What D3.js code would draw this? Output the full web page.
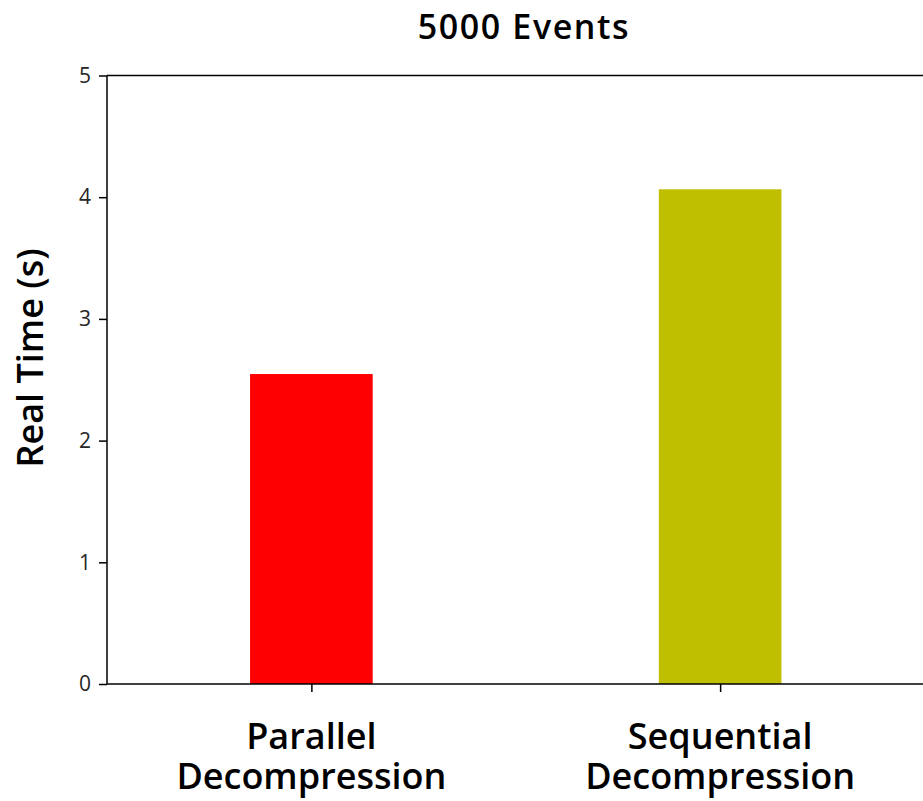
<!DOCTYPE html>
<html>
<head>
<meta charset="utf-8">
<script src="https://cdn.jsdelivr.net/npm/d3@7"></script>
<style>
  html, body { margin: 0; padding: 0; background: #fff; }
  svg { display: block; }
  text { font-family: "Open Sans", "Noto Sans", sans-serif; }
</style>
</head>
<body>
<svg id="chart" width="923" height="801"></svg>
<script>
const categories = ["Parallel\nDecompression", "Sequential\nDecompression"];
const values = [2.547, 4.065];
const colors = ["#ff0000", "#bfbf00"];
const yTicks = [0, 1, 2, 3, 4, 5];
const title = "5000 Events";
const yLabel = "Real Time (s)";

(function () {
const svg = d3.select("#chart");
const mLeft = 107, mRight = 924.5, mTop = 75.5, mBottom = 684;

const x = d3.scaleLinear().domain([-0.5, 1.5]).range([mLeft, mRight]);
const y = d3.scaleLinear().domain([0, 5]).range([mBottom, mTop]);
const barW = 0.3;

// bars
svg.append("g").selectAll("rect").data(values).join("rect")
  .attr("x", (d, i) => x(i - barW / 2))
  .attr("width", (d, i) => x(i + barW / 2) - x(i - barW / 2))
  .attr("y", d => y(d))
  .attr("height", d => y(0) - y(d))
  .attr("fill", (d, i) => colors[i]);

// y axis
const yAxis = d3.axisLeft(y).tickValues(yTicks).tickFormat(d3.format("d")).tickSize(8).tickPadding(8);
const gy = svg.append("g").attr("transform", `translate(${mLeft},0)`).call(yAxis);
gy.attr("font-size", null).attr("font-family", null);
gy.select(".domain").remove();
gy.selectAll(".tick line").attr("stroke", "#000").attr("stroke-width", 1.5);
gy.selectAll(".tick text").style("font-size", "21px").attr("fill", "#262626")
  .style("font-family", "'Open Sans', sans-serif");

// x axis
const xAxis = d3.axisBottom(x).tickValues([0, 1]).tickFormat("").tickSize(8);
const gx = svg.append("g").attr("transform", `translate(0,${mBottom})`).call(xAxis);
gx.select(".domain").remove();
gx.selectAll(".tick line").attr("stroke", "#000").attr("stroke-width", 1.5);

// x category labels (two lines)
const lab = svg.append("g").selectAll("text").data(categories).join("text")
  .attr("x", (d, i) => x(i))
  .attr("text-anchor", "middle")
  .style("font-size", "36px")
  .style("font-weight", 600)
  .attr("fill", "#000");
lab.each(function (d) {
  const cx = d3.select(this).attr("x");
  d3.select(this).selectAll("tspan").data(d.split("\n")).join("tspan")
    .attr("x", cx)
    .attr("y", (l, j) => 748.5 + j * 40.5)
    .text(l => l);
});

// spines
const sp = svg.append("g").attr("stroke", "#000").attr("stroke-width", 1.5).attr("fill", "none");
sp.append("line").attr("x1", mLeft).attr("x2", mLeft).attr("y1", mTop).attr("y2", mBottom);
sp.append("line").attr("x1", mLeft).attr("x2", mRight).attr("y1", mTop).attr("y2", mTop);
sp.append("line").attr("x1", mLeft).attr("x2", mRight).attr("y1", mBottom).attr("y2", mBottom);
sp.append("line").attr("x1", mRight).attr("x2", mRight).attr("y1", mTop).attr("y2", mBottom);

// title
svg.append("text").attr("x", 524).attr("y", 38.5)
  .attr("text-anchor", "middle").style("font-size", "34px").style("font-weight", 600)
  .style("letter-spacing", "1.6px").attr("fill", "#000")
  .text(title);

// y label
svg.append("text")
  .attr("transform", `translate(43,358) rotate(-90)`)
  .attr("text-anchor", "middle").style("font-size", "36px").style("font-weight", 600).attr("fill", "#000")
  .text(yLabel);
})();
</script>
</body>
</html>
